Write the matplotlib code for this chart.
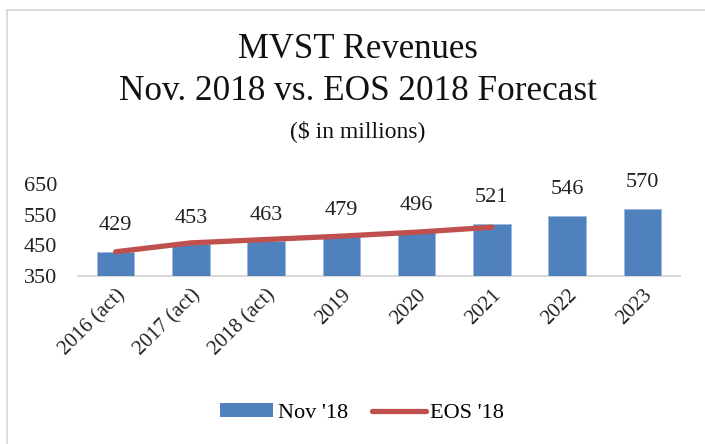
import matplotlib
matplotlib.use("Agg")
import matplotlib.pyplot as plt
from matplotlib.lines import Line2D
from matplotlib.patches import Patch

plt.rcParams['font.family'] = ['Liberation Serif', 'DejaVu Serif']

categories = ['2016 (act)', '2017 (act)', '2018 (act)', '2019', '2020', '2021', '2022', '2023']
nov18 = [429, 453, 463, 479, 496, 521, 546, 570]
eos18 = [429, 458, 469, 480, 493, 509]
yticks = [350, 450, 550, 650]

W, H = 705, 444
fig = plt.figure(figsize=(W / 100, H / 100), dpi=100)
ax = fig.add_axes([78 / W, 1 - 276 / H, (680 - 78) / W, (276 - 184) / H])

x = list(range(len(categories)))
ax.bar(x, nov18, width=0.5, color='#4F81BD', edgecolor='#9DB9DE', linewidth=0.6,
       label="Nov '18", zorder=2)
ax.plot(x[:len(eos18)], eos18, color='#C0504D', lw=3.8, solid_capstyle='round',
        label="EOS '18", zorder=3)

for xi, v in zip(x, nov18):
    ax.annotate(str(v), (xi, v), xytext=(0, 12), textcoords='offset points',
                ha='center', va='bottom', fontsize=16, color='#222222')

ax.set_xlim(-0.5, len(categories) - 0.5)
ax.set_ylim(350, 650)
ax.set_yticks(yticks)
ax.set_xticks(x)
ax.set_xticklabels(categories, rotation=45, ha='right', rotation_mode='anchor', fontsize=15)
ax.tick_params(axis='both', length=0, colors='#222222')
ax.tick_params(axis='y', pad=15, labelsize=16)
ax.tick_params(axis='x', pad=7)
for s in ['top', 'right', 'left']:
    ax.spines[s].set_visible(False)
ax.spines['bottom'].set_color('#D9D9D9')
ax.spines['bottom'].set_linewidth(1.5)
ax.spines['bottom'].set_zorder(1)

cx = 358 / W
fig.text(cx, 1 - 58 / H, 'MVST Revenues', ha='center', va='baseline', fontsize=25, color='#111111')
fig.text(cx, 1 - 100 / H, 'Nov. 2018 vs. EOS 2018 Forecast', ha='center', va='baseline', fontsize=25.3, color='#111111')
fig.text(cx, 1 - 137 / H, '($ in millions)', ha='center', va='baseline', fontsize=17, color='#111111')

handles = [Patch(facecolor='#4F81BD', edgecolor='none'),
           Line2D([0], [0], color='#C0504D', lw=3.8, solid_capstyle='round')]
fig.legend(handles, ["Nov '18", "EOS '18"], loc='center', bbox_to_anchor=(362 / W, 1 - 413 / H),
           ncol=2, frameon=False, fontsize=16, handlelength=2.4, handleheight=0.6,
           columnspacing=1.1, handletextpad=0.2)

fig.add_artist(Line2D([7 / W, 7 / W], [0, 1 - 10 / H], transform=fig.transFigure, color='#D9D9D9', lw=1.3))
fig.add_artist(Line2D([7 / W, 1], [1 - 10 / H, 1 - 10 / H], transform=fig.transFigure, color='#D9D9D9', lw=1.3))

fig.savefig('out.png', dpi=100)
